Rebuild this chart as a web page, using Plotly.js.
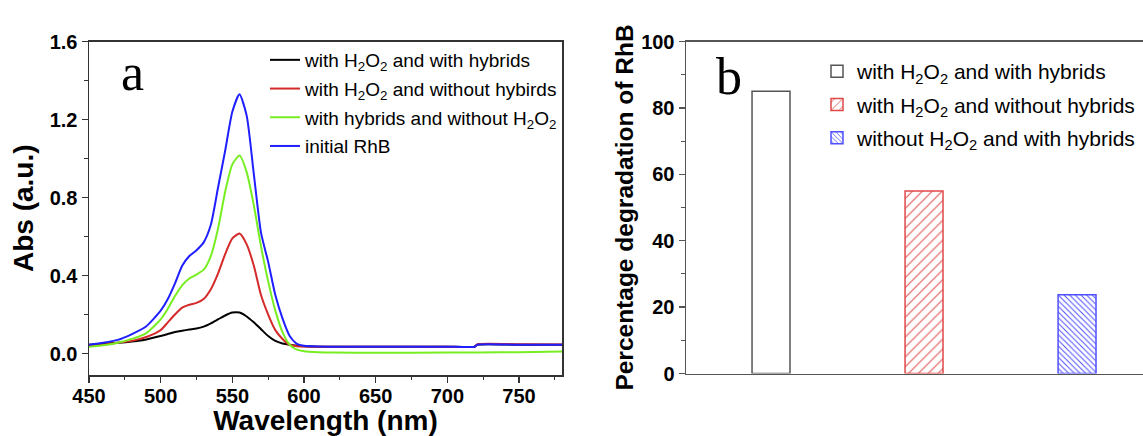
<!DOCTYPE html>
<html>
<head>
<meta charset="utf-8">
<script src="https://cdn.plot.ly/plotly-3.0.1.min.js"></script>
<style>html,body{margin:0;padding:0;background:#fff;overflow:hidden}</style>
</head>
<body>
<div id="chart" style="width:1143px;height:436px"></div>
<script>
// ---- Panel a: UV-vis spectra ----
const wavelength = [450,460,470,480,490,500,505,510,515,520,525,530,535,540,545,550,555,560,565,570,575,580,585,590,595,600,610,620,650,700,719,721,750,780];
const absWithH2O2WithHybrids = [0.045,0.050,0.055,0.062,0.072,0.090,0.100,0.110,0.117,0.123,0.128,0.138,0.155,0.175,0.195,0.210,0.210,0.190,0.160,0.125,0.090,0.065,0.052,0.045,0.040,0.037,0.035,0.035,0.035,0.035,0.035,0.045,0.045,0.045];
const absWithH2O2WithoutHybrids = [0.040,0.045,0.055,0.065,0.085,0.120,0.160,0.200,0.235,0.250,0.260,0.280,0.330,0.410,0.510,0.590,0.615,0.560,0.450,0.300,0.200,0.120,0.075,0.045,0.038,0.036,0.035,0.035,0.035,0.035,0.035,0.048,0.048,0.047];
const absWithHybridsWithoutH2O2 = [0.035,0.042,0.055,0.075,0.105,0.175,0.230,0.295,0.350,0.385,0.405,0.430,0.500,0.640,0.830,0.970,1.015,0.930,0.760,0.550,0.370,0.220,0.110,0.045,0.020,0.012,0.007,0.005,0.004,0.005,0.006,0.006,0.007,0.010];
const absInitialRhB = [0.045,0.055,0.070,0.100,0.140,0.220,0.280,0.360,0.450,0.500,0.530,0.570,0.660,0.850,1.040,1.240,1.330,1.220,0.920,0.620,0.470,0.300,0.180,0.090,0.050,0.040,0.036,0.035,0.035,0.035,0.035,0.045,0.045,0.045];
const spectraNames = ['with H<sub>2</sub>O<sub>2</sub> and with hybrids','with H<sub>2</sub>O<sub>2</sub> and without hybirds','with hybrids and without H<sub>2</sub>O<sub>2</sub>','initial RhB'];
const spectraColors = ['#000000','#d42a2a','#77ee22','#1f1fff'];

// ---- Panel b: degradation percentage ----
const barPositions = [1,2,3];
const barNames = ['with H<sub>2</sub>O<sub>2</sub> and with hybrids','with H<sub>2</sub>O<sub>2</sub> and without hybrids','without H<sub>2</sub>O<sub>2</sub> and with hybrids'];
const degradation = [85.0, 55.0, 23.7];

const W = 1143, H = 436;
const px = v => v / W;
const py = v => 1 - v / H;
const FAMILY = 'Liberation Sans, Arial, sans-serif';

const spectra = [absWithH2O2WithHybrids, absWithH2O2WithoutHybrids, absWithHybridsWithoutH2O2, absInitialRhB];
const traces = spectra.map((ys, i) => ({
  type: 'scatter', mode: 'lines', x: wavelength, y: ys,
  name: spectraNames[i], line: {color: spectraColors[i], width: 2, shape: 'spline', smoothing: 0.6},
  xaxis: 'x', yaxis: 'y', legend: 'legend', legendgroup: 'g' + i
}));

const barStyles = [
  {color: '#ffffff', line: {color: '#555555', width: 1.5}},
  {color: '#ffffff', line: {color: '#e04848', width: 1.5}, pattern: {shape: '/', fgcolor: '#e05050', bgcolor: '#ffffff', size: 7, solidity: 0.15}},
  {color: '#ffffff', line: {color: '#4f4fff', width: 1.5}, pattern: {shape: '\\', fgcolor: '#4f4fff', bgcolor: '#ffffff', size: 4, solidity: 0.25}}
];
barPositions.forEach((p, i) => {
  traces.push({
    type: 'bar', x: [p], y: [degradation[i]], width: 0.248, name: barNames[i],
    marker: barStyles[i], xaxis: 'x2', yaxis: 'y2', legend: 'legend2', legendgroup: 'b' + i,
    hoverinfo: 'y'
  });
});

const tickFont = {family: FAMILY, size: 20, color: '#000', weight: 'bold'};
const titleFont = {family: FAMILY, size: 28, color: '#000', weight: 'bold'};

const layout = {
  width: W, height: H,
  margin: {l: 0, r: 0, t: 0, b: 0, autoexpand: false},
  paper_bgcolor: '#fff', plot_bgcolor: '#fff',
  showlegend: true,
  xaxis: {
    domain: [px(89), px(562)], range: [450, 780], tick0: 450, dtick: 50, automargin: false,
    anchor: 'y', ticklabelstandoff: -4,
    ticks: 'outside', ticklen: 6, tickwidth: 1.5, tickcolor: '#333',
    minor: {ticks: 'outside', ticklen: 3.5, dtick: 25, tickcolor: '#333', tickwidth: 1.2},
    showline: true, linecolor: '#333', linewidth: 1.5, mirror: true,
    showgrid: false, zeroline: false, tickfont: tickFont,
    title: {text: 'Wavelength (nm)', font: titleFont, standoff: 12}
  },
  yaxis: {
    domain: [py(375), py(41.5)], range: [-0.11, 1.6], tick0: 0, dtick: 0.4, tickformat: '.1f', automargin: false,
    anchor: 'x',
    ticks: 'outside', ticklen: 6, tickwidth: 1.5, tickcolor: '#333',
    minor: {ticks: 'outside', ticklen: 3.5, dtick: 0.2, tickcolor: '#333', tickwidth: 1.2},
    showline: true, linecolor: '#333', linewidth: 1.5, mirror: true,
    showgrid: false, zeroline: false, tickfont: tickFont,
    title: {text: 'Abs (a.u.)', font: titleFont, standoff: 8}
  },
  xaxis2: {
    domain: [px(686), 1], range: [0.4444, 3.431], automargin: false,
    anchor: 'y2',
    showticklabels: false, ticks: '', showgrid: false, zeroline: false,
    showline: true, linecolor: '#555', linewidth: 1.5, mirror: true
  },
  yaxis2: {
    domain: [py(373.5), py(41.5)], range: [0, 100], tick0: 0, dtick: 20, automargin: false,
    anchor: 'x2',
    ticks: 'outside', ticklen: 6, tickwidth: 1.5, tickcolor: '#555',
    minor: {ticks: 'outside', ticklen: 3.5, dtick: 10, tickcolor: '#555', tickwidth: 1.2},
    showline: true, linecolor: '#555', linewidth: 1.5, mirror: false,
    showgrid: false, zeroline: false, tickfont: tickFont,
    title: {text: 'Percentage degradation of RhB', font: {family: FAMILY, size: 24.5, color: '#000', weight: 'bold'}, standoff: 0}
  },
  legend: {
    xref: 'paper', yref: 'paper', x: px(265), y: py(41), xanchor: 'left', yanchor: 'top',
    bgcolor: 'rgba(0,0,0,0)', borderwidth: 0, tracegroupgap: 1,
    font: {family: FAMILY, size: 19, color: '#000'}
  },
  legend2: {
    xref: 'paper', yref: 'paper', x: px(817), y: py(51), xanchor: 'left', yanchor: 'top',
    bgcolor: 'rgba(0,0,0,0)', borderwidth: 0, tracegroupgap: 3,
    font: {family: FAMILY, size: 21, color: '#000'}
  },
  annotations: [
    {text: 'a', xref: 'paper', yref: 'paper', x: px(132), y: py(72), xanchor: 'center', yanchor: 'middle', showarrow: false,
     font: {family: 'Liberation Serif, serif', size: 52, color: '#000'}},
    {text: 'b', xref: 'paper', yref: 'paper', x: px(729), y: py(76), xanchor: 'center', yanchor: 'middle', showarrow: false,
     font: {family: 'Liberation Serif, serif', size: 52, color: '#000'}}
  ]
};

Plotly.newPlot('chart', traces, layout, {displayModeBar: false, staticPlot: true});
</script>
</body>
</html>
